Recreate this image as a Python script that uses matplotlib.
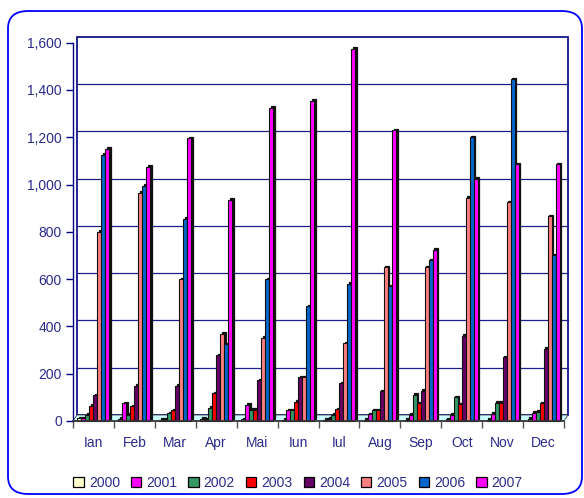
import matplotlib
matplotlib.use("Agg")
import matplotlib.pyplot as plt
from matplotlib.patches import Patch, FancyBboxPatch, Rectangle, Polygon
from matplotlib.transforms import ScaledTranslation
import numpy as np

months = ["Ian", "Feb", "Mar", "Apr", "Mai", "Iun", "Iul", "Aug", "Sep", "Oct", "Nov", "Dec"]
years = ["2000", "2001", "2002", "2003", "2004", "2005", "2006", "2007"]

v2000 = [12, 10, 5, 10, 8, 5, 5, 5, 5, 8, 5, 10]
v2001 = [12, 75, 5, 5, 68, 45, 10, 28, 25, 25, 30, 35]
v2002 = [25, 25, 32, 55, 48, 45, 25, 45, 112, 100, 78, 40]
v2003 = [65, 62, 45, 118, 48, 82, 50, 45, 75, 70, 78, 75]
v2004 = [108, 150, 150, 278, 172, 185, 160, 125, 128, 360, 270, 305]
v2005 = [800, 965, 600, 370, 353, 185, 328, 650, 650, 945, 925, 865]
v2006 = [1125, 995, 855, 325, 600, 485, 580, 570, 680, 1200, 1445, 700]
v2007 = [1150, 1075, 1195, 935, 1325, 1355, 1575, 1230, 725, 1025, 1085, 1085]
series = [v2000, v2001, v2002, v2003, v2004, v2005, v2006, v2007]
colors = ["#FFFFCC", "#FF00FF", "#339966", "#FF0000", "#660066", "#FF8080", "#0066CC", "#FF00FF"]
yticks = [0, 200, 400, 600, 800, 1000, 1200, 1400, 1600]

txt = "#2B2B8C"
navy = "#000080"
W, H = 584, 498
plt.rcParams["font.family"] = ["Liberation Sans", "DejaVu Sans"]
fig = plt.figure(figsize=(W / 100, H / 100), dpi=100, facecolor="white")

# rounded outer frame
frame = FancyBboxPatch((8 / W, 4 / H), (582 - 8) / W, (487 - 4) / H,
                       boxstyle="round,pad=0,rounding_size=0.035",
                       transform=fig.transFigure, facecolor="none",
                       edgecolor="#0000FF", linewidth=1.3, zorder=-5)
fig.patches.append(frame)

x0, x1, yb, yt = 73, 564, 421, 42.7
ax = fig.add_axes([x0 / W, 1 - yb / H, (x1 - x0) / W, (yb - yt) / H])
ax.set_xlim(-0.5, 11.5)
ax.set_ylim(0, 1600)
ax.patch.set_visible(False)
for s in ["top", "right", "bottom"]:
    ax.spines[s].set_visible(False)
ax.spines["left"].set_color(navy)
ax.spines["left"].set_linewidth(1.0)

off = ScaledTranslation(4 / 100.0, 6 / 100.0, fig.dpi_scale_trans)

# back wall
wall = Rectangle((0, 0), 1, 1, transform=ax.transAxes + off, facecolor="white",
                 edgecolor=navy, linewidth=1.2, zorder=0.5, clip_on=False)
ax.add_patch(wall)
# gridlines on back wall
for t in yticks[1:-1]:
    ax.plot([-0.5, 11.5], [t, t], color="#1E1E8A", linewidth=0.9,
            transform=ax.transData + off, zorder=0.6, clip_on=False)
# floor
fl = Polygon([[x0 / W, 1 - yb / H], [x1 / W, 1 - yb / H],
              [(x1 + 4) / W, 1 - (yb - 6) / H], [(x0 + 4) / W, 1 - (yb - 6) / H]],
             closed=True, transform=fig.transFigure, facecolor="#CCFFFF",
             edgecolor="#444444", linewidth=0.6, zorder=1, clip_on=False)
ax.add_patch(fl)

# bars
w = 0.098
xs = np.arange(len(months))
sh = ScaledTranslation(1.6 / 100, 1.6 / 100, fig.dpi_scale_trans)
for j, (vals, c) in enumerate(zip(series, colors)):
    pos = xs + (j - 3.5) * w
    ax.bar(pos, vals, width=w, color="#111111", edgecolor="#111111", linewidth=0.9,
           transform=ax.transData + sh, zorder=2 + j * 0.1, clip_on=False)
    ax.bar(pos, vals, width=w, color=c, edgecolor="#111111", linewidth=0.8,
           zorder=2.05 + j * 0.1, clip_on=False)

# ticks
ax.set_yticks(yticks)
ax.set_yticklabels([f"{t:,}" for t in yticks], color=txt, fontsize=10)
ax.tick_params(axis="y", direction="out", length=5, width=1, color=navy, pad=3)
ax.set_xticks(xs)
ax.set_xticklabels(months, color=txt, fontsize=10)
ax.tick_params(axis="x", which="major", length=0, pad=11)
ax.set_xticks(np.arange(-0.5, 12, 1), minor=True)
ax.tick_params(axis="x", which="minor", direction="out", length=5, width=1, color="#555555")
ax.plot([-0.5, 11.5], [0, 0], color="#333333", linewidth=1.2, zorder=3, clip_on=False)

handles = [Patch(facecolor=c, edgecolor="black", linewidth=0.9) for c in colors]
fig.legend(handles, years, loc="center", bbox_to_anchor=(298 / W, 1 - 483 / H),
           ncol=8, frameon=False, handlelength=0.75, handleheight=0.75,
           handletextpad=0.35, columnspacing=0.8, fontsize=10, labelcolor=txt)

fig.savefig("out.png", dpi=100)
